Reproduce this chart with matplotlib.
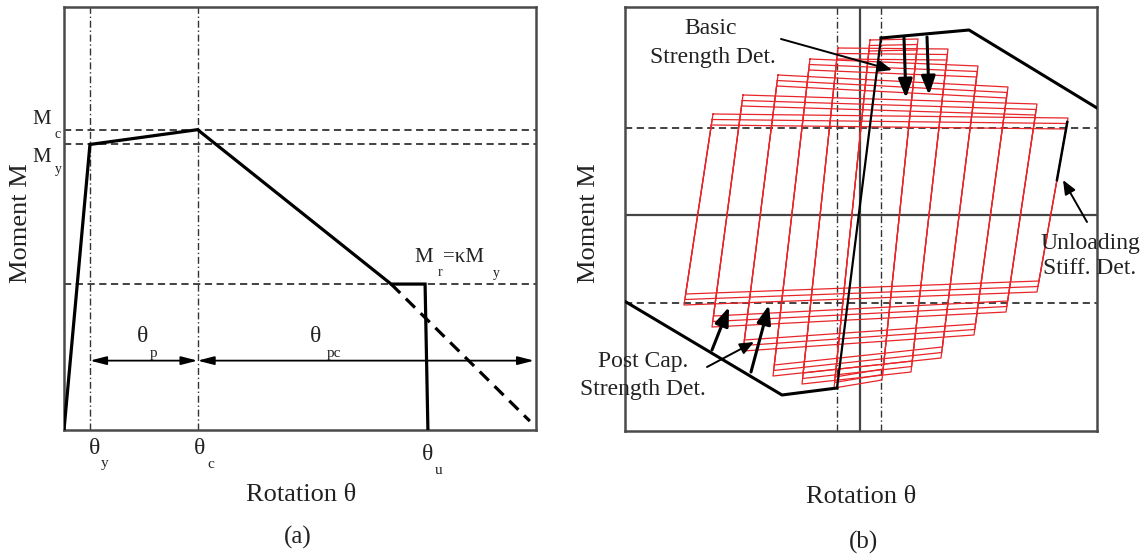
import matplotlib
matplotlib.use('Agg')
import matplotlib.pyplot as plt

plt.rcParams['font.family'] = ['Liberation Serif', 'DejaVu Serif']

# ---------------- Panel (a): backbone curve (normalised units) ----------------
theta_y = 0.055
theta_c = 0.283
theta_r = 0.693          # start of residual plateau
theta_u_top = 0.765
theta_u = 0.771
M_y = 0.675
M_c = 0.710
M_r = 0.345
backbone_theta = [0.0, theta_y, theta_c, theta_r, theta_u_top, theta_u]
backbone_M = [0.0, M_y, M_c, M_r, M_r, 0.0]
ext_theta = [theta_r, 0.987]
ext_M = [M_r, 0.021]
arrow_level = 0.164
theta_pc_end = 0.996

# ---------------- Panel (b): hysteresis loops (units about the origin) ----------------
yield_pos, yield_neg = 87, -88
dashdot_x = [-23, 21]
# corner points of the first cycle at each amplitude level (inner -> outer)
level_TL_x = [10, -22, -50, -82, -117, -147]
level_TL_y = [175, 167, 156, 140, 120, 101]
level_TR_x = [58, 88, 118, 148, 177, 208]
level_TR_y = [176, 166, 149, 128, 111, 97]
level_BL_x = [-26, -58, -87, -117, -148, -176]
level_BL_y = [-173, -169, -161, -136, -112, -90]
level_BR_x = [22, 51, 81, 114, 146, 177]
level_BR_y = [-165, -157, -143, -120, -97, -77]
cycle_offsets = [0, 5.5, 11]
upper_bb_theta = [21, 109, 237]
upper_bb_M = [177, 185, 107]
lower_bb_theta = [-234, -78, -23]
lower_bb_M = [-87, -180, -173]
elastic_theta = [-23, 21]
elastic_M = [-173, 177]
unload_highlight_M = [93, 35]

W, H = 1143, 554
fig = plt.figure(figsize=(W / 100, H / 100), dpi=100)
axA = fig.add_axes([64 / W, 1 - 430 / H, 472 / W, 423 / H])
axB = fig.add_axes([625 / W, 1 - 431 / H, 472 / W, 424 / H])
for ax in (axA, axB):
    ax.set_xticks([])
    ax.set_yticks([])
    for sp in ax.spines.values():
        sp.set_linewidth(1.8)
        sp.set_color('#4a4a4a')
axA.set_xlim(0, 1)
axA.set_ylim(0, 1)
axB.set_xlim(-235, 237)
axB.set_ylim(-216, 208)

DASH = (0, (4, 2.5))
DASHDOT = (0, (5, 2, 1, 2))
GR = '#333333'

# ---- panel (a) ----
for m in (M_c, M_y, M_r):
    axA.axhline(m, color=GR, lw=1.3, ls=DASH, zorder=1)
for t in (theta_y, theta_c):
    axA.axvline(t, color=GR, lw=1.0, ls=DASHDOT, zorder=1)
axA.plot(backbone_theta, backbone_M, color='black', lw=2.3, zorder=3,
         solid_joinstyle='miter')
axA.plot(ext_theta, ext_M, color='black', lw=2.3, ls=(0, (4, 2.5)), zorder=3)
astyle = dict(arrowstyle='<|-|>,head_length=0.7,head_width=0.18', color='black',
              lw=1.3, shrinkA=0, shrinkB=0, mutation_scale=14)
axA.annotate('', xy=(theta_y, arrow_level), xytext=(theta_c, arrow_level),
             arrowprops=astyle)
axA.annotate('', xy=(theta_c, arrow_level), xytext=(theta_pc_end, arrow_level),
             arrowprops=astyle)

# ---- panel (b) ----
RED = '#e8262a'
axB.axhline(0, color='#444444', lw=1.6, zorder=1)
axB.axvline(0, color='#444444', lw=1.6, zorder=1)
axB.axhline(yield_pos, color=GR, lw=1.3, ls=DASH, zorder=1)
axB.axhline(yield_neg, color=GR, lw=1.3, ls=DASH, zorder=1)
for t in dashdot_x:
    axB.axvline(t, color=GR, lw=1.0, ls=DASHDOT, zorder=1)


def side_x(xa, ya, xb, yb, y):
    return xa + (xb - xa) * (y - ya) / (yb - ya)


for j in range(len(level_TL_x)):
    for off in cycle_offsets:
        tl_y = level_TL_y[j] - off
        tr_y = level_TR_y[j] - off
        br_y = level_BR_y[j] + off
        bl_y = level_BL_y[j] + off
        xs = [side_x(level_BL_x[j], level_BL_y[j], level_TL_x[j], level_TL_y[j], tl_y),
              side_x(level_BR_x[j], level_BR_y[j], level_TR_x[j], level_TR_y[j], tr_y),
              side_x(level_BR_x[j], level_BR_y[j], level_TR_x[j], level_TR_y[j], br_y),
              side_x(level_BL_x[j], level_BL_y[j], level_TL_x[j], level_TL_y[j], bl_y)]
        ys = [tl_y, tr_y, br_y, bl_y]
        axB.plot(xs + xs[:1], ys + ys[:1], color=RED, lw=0.9, zorder=2)

axB.plot(upper_bb_theta, upper_bb_M, color='black', lw=2.2, zorder=4)
axB.plot(lower_bb_theta, lower_bb_M, color='black', lw=2.2, zorder=4)
axB.plot(elastic_theta, elastic_M, color='black', lw=1.6, zorder=4)
jo = len(level_TL_x) - 1
hx = [side_x(level_BR_x[jo], level_BR_y[jo], level_TR_x[jo], level_TR_y[jo], m)
      for m in unload_highlight_M]
axB.plot(hx, unload_highlight_M, color='black', lw=1.8, zorder=4)

thin = dict(arrowstyle='-|>,head_length=0.6,head_width=0.25', color='black', lw=1.4,
            shrinkA=0, shrinkB=0, mutation_scale=14)
bold = dict(arrowstyle='-|>,head_length=0.8,head_width=0.3', color='black', lw=2.2,
            shrinkA=0, shrinkB=0, mutation_scale=14)
axB.annotate('', xy=(32, 145), xytext=(-79, 176), arrowprops=thin, zorder=5)
axB.annotate('', xy=(46, 117), xytext=(44, 177), arrowprops=bold, zorder=5)
axB.annotate('', xy=(69, 120), xytext=(67, 178), arrowprops=bold, zorder=5)
axB.annotate('', xy=(203, 35), xytext=(227, -7), arrowprops=thin, zorder=5)
axB.annotate('', xy=(-106, -127), xytext=(-153, -152), arrowprops=thin, zorder=5)
axB.annotate('', xy=(-131, -92), xytext=(-148, -135), arrowprops=bold, zorder=5)
axB.annotate('', xy=(-91, -90), xytext=(-109, -157), arrowprops=bold, zorder=5)


# ---- texts (figure pixel positions) ----
def ftext(px, py, s, size, **kw):
    kw.setdefault('ha', 'center')
    kw.setdefault('va', 'center')
    fig.text(px / W, 1 - py / H, s, fontsize=size, color='#222222', **kw)


ftext(21, 223, 'Moment M', 19, rotation=90)
ftext(301, 495, 'Rotation θ', 19)
ftext(298, 537, '(a)', 18)
ftext(42, 120, 'M', 15)
ftext(58, 134, 'c', 10)
ftext(42, 157, 'M', 15)
ftext(58, 169, 'y', 10)
ftext(95, 448, 'θ', 17)
ftext(105, 464, 'y', 11)
ftext(200, 448, 'θ', 17)
ftext(211, 464, 'c', 11)
ftext(428, 455, 'θ', 17)
ftext(439, 471, 'u', 11)
ftext(143, 336, 'θ', 17)
ftext(154, 353, 'p', 11)
ftext(316, 336, 'θ', 17)
ftext(334, 353, 'pc', 11)
ftext(424, 258, 'M', 15)
ftext(440, 272, 'r', 10)
ftext(463, 258, '=κM', 15)
ftext(496, 273, 'y', 10)

ftext(589, 223, 'Moment M', 19, rotation=90)
ftext(861, 497, 'Rotation θ', 19)
ftext(864, 542, '(b)', 18)
ftext(711, 29, 'Basic', 17)
ftext(713, 57, 'Strength Det.', 17)
ftext(1140, 244, 'Unloading', 17, ha='right')
ftext(1136, 269, 'Stiff. Det.', 17, ha='right')
ftext(688, 361, 'Post Cap.', 17, ha='right')
ftext(706, 390, 'Strength Det.', 17, ha='right')

fig.savefig('out.png', dpi=100)
